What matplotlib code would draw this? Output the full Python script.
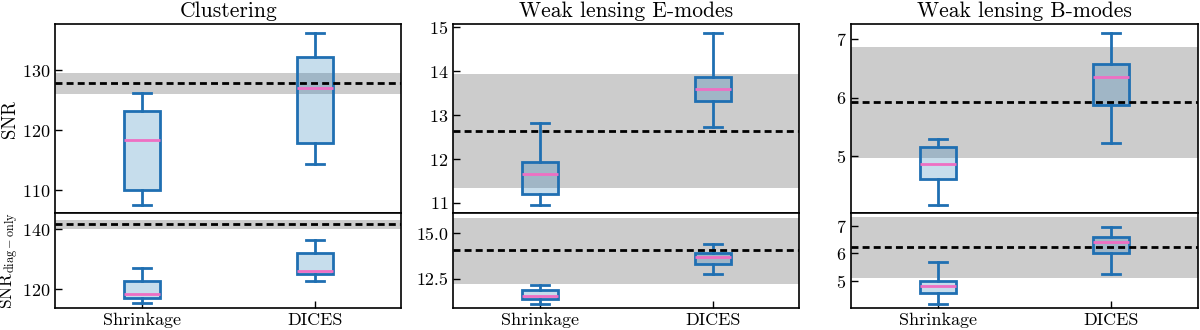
import matplotlib
matplotlib.use("Agg")
import matplotlib.pyplot as plt
import numpy as np

plt.rcParams["font.family"] = "serif"
plt.rcParams["font.serif"] = ["cmr10", "DejaVu Serif"]
plt.rcParams["mathtext.fontset"] = "cm"
plt.rcParams["axes.formatter.use_mathtext"] = True

# data: (whislo, q1, med, q3, whishi)
methods = ["Shrinkage", "DICES"]
titles = ["Clustering", "Weak lensing E-modes", "Weak lensing B-modes"]

clust_full = [(107.55, 110.1, 118.4, 123.3, 126.3), (114.45, 117.95, 127.05, 132.2, 136.2)]
clust_diag = [(115.3, 117.0, 118.3, 122.7, 127.2), (122.9, 125.1, 126.2, 132.3, 136.5)]
emode_full = [(10.955, 11.2, 11.65, 11.93, 12.82), (12.72, 13.32, 13.6, 13.88, 14.87)]
emode_diag = [(11.13, 11.4, 11.57, 11.9, 12.15), (12.76, 13.35, 13.73, 13.93, 14.4)]
bmode_full = [(4.16, 4.61, 4.86, 5.16, 5.29), (5.22, 5.87, 6.36, 6.58, 7.11)]
bmode_diag = [(4.17, 4.56, 4.82, 4.98, 5.69), (5.24, 6.0, 6.4, 6.58, 6.96)]

# reference SNR and its 1-sigma band
ref_full = [127.9, 12.64, 5.93]
band_full = [(126.05, 129.55), (11.35, 13.94), (4.96, 6.87)]
ref_diag = [141.8, 14.09, 6.22]
band_diag = [(140.3, 143.1), (12.23, 15.87), (5.1, 7.33)]

ylims_full = [(106.2, 137.7), (10.765, 15.075), (4.02, 7.26)]
ylims_diag = [(113.8, 145.4), (10.91, 16.11), (4.02, 7.46)]
yticks_full = [[110, 120, 130], [11, 12, 13, 14, 15], [5, 6, 7]]
yticks_diag = [[120, 140], [12.5, 15.0], [5, 6, 7]]

full = [clust_full, emode_full, bmode_full]
diag = [clust_diag, emode_diag, bmode_diag]

blue = "#1f6fb2"
pink = "#ee6fc3"


def draw_panel(ax, boxes, ref, band, ylim, yticks):
    stats = []
    for name, b in zip(methods, boxes):
        stats.append(dict(label=name, whislo=b[0], q1=b[1], med=b[2], q3=b[3], whishi=b[4], fliers=[]))
    ax.axhspan(band[0], band[1], color="gray", alpha=0.4, lw=0, zorder=0)
    ax.bxp(stats, positions=[1, 2], widths=0.21, patch_artist=True, showfliers=False,
           boxprops=dict(facecolor=(0.12, 0.47, 0.71, 0.25), edgecolor=blue, lw=2),
           whiskerprops=dict(color=blue, lw=2), capprops=dict(color=blue, lw=2),
           medianprops=dict(color=pink, lw=2), zorder=2)
    ax.axhline(ref, color="k", lw=2, dashes=(2.5, 1.5), zorder=3)
    ax.set_xlim(0.5, 2.5)
    ax.set_ylim(*ylim)
    ax.set_yticks(yticks)
    ax.tick_params(direction="in", labelsize=13, length=5, width=1)


fig, axes = plt.subplots(2, 3, figsize=(12, 3.3), dpi=100,
                         gridspec_kw=dict(height_ratios=[2, 1], hspace=0, wspace=0.15))
fig.subplots_adjust(left=0.046, right=0.998, top=0.927, bottom=0.067)

for j in range(3):
    draw_panel(axes[0, j], full[j], ref_full[j], band_full[j], ylims_full[j], yticks_full[j])
    draw_panel(axes[1, j], diag[j], ref_diag[j], band_diag[j], ylims_diag[j], yticks_diag[j])
    axes[0, j].set_title(titles[j], fontsize=15.5, pad=5)
    axes[0, j].tick_params(axis="x", bottom=False, labelbottom=False)
    axes[1, j].set_xticks([1, 2], methods)
    if j == 1:
        axes[1, j].yaxis.set_major_formatter(matplotlib.ticker.FormatStrFormatter("%.1f"))

axes[0, 0].set_ylabel("SNR", fontsize=13.5)
axes[1, 0].set_ylabel(r"$\mathrm{SNR}_{\mathrm{diag-only}}$", fontsize=12.5)
axes[0, 0].yaxis.set_label_coords(-0.105, 0.5)
axes[1, 0].yaxis.set_label_coords(-0.098, 0.5)
for ax in axes.flat:
    for s in ax.spines.values():
        s.set_linewidth(1.2)

fig.savefig("out.png", dpi=100)
